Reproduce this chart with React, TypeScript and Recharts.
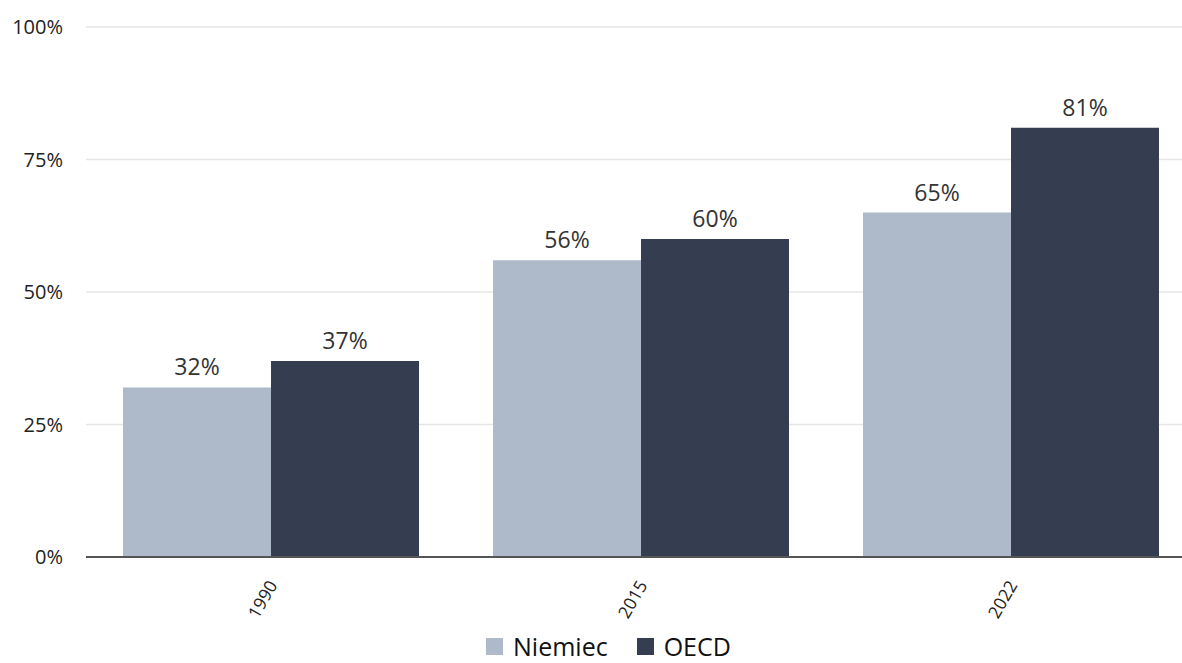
import { BarChart, Bar, XAxis, YAxis, CartesianGrid, Legend, LabelList } from "recharts"

const years = ["1990", "2015", "2022"]
const niemiec = [32, 56, 65]
const oecd = [37, 60, 81]
const yTicks = [0, 25, 50, 75, 100]

const data = years.map((year, i) => ({ year, niemiec: niemiec[i], oecd: oecd[i] }))

const FONT = "'Open Sans', sans-serif"

function YTick({ y, payload }: any) {
    return (
        <text x={63} y={y} dy="0.355em" textAnchor="end" fontSize={20} fill="#222" fontFamily={FONT}>
            {payload.value}%
        </text>
    )
}

function XTick({ x, y, payload }: any) {
    return (
        <g transform={`translate(${x + 7},${y + 20})`}>
            <text textAnchor="end" transform="rotate(-60)" fontSize={17.5} fill="#222" fontFamily={FONT}>
                {payload.value}
            </text>
        </g>
    )
}

function LegendContent({ payload }: any) {
    return (
        <div style={{ display: "flex", alignItems: "center", paddingLeft: 486, height: 26, fontFamily: FONT, fontSize: 25, lineHeight: "26px", color: "#111" }}>
            {(payload || []).map((p: any, i: number) => (
                <div key={p.value} style={{ display: "flex", alignItems: "center", marginRight: i === 0 ? 29 : 0 }}>
                    <span style={{ display: "inline-block", width: 17, height: 17, background: p.color, marginRight: 10 }} />
                    <span>{p.value}</span>
                </div>
            ))}
        </div>
    )
}

export default function App() {
    return (
        <div style={{ position: "fixed", left: 0, top: 0, width: 1182, height: 663, overflow: "hidden", background: "#fff" }}>
            <BarChart
                width={1210}
                height={663}
                data={data}
                margin={{ top: 27, right: 14, bottom: 0, left: 0 }}
                barCategoryGap="10%"
                barGap={0}
            >
                <CartesianGrid vertical={false} stroke="#e6e6e6" strokeWidth={1.5} />
                <XAxis
                    dataKey="year"
                    tick={<XTick />}
                    tickLine={false}
                    axisLine={{ stroke: "#555", strokeWidth: 2 }}
                    height={80}
                    interval={0}
                />
                <YAxis
                    domain={[0, 100]}
                    ticks={yTicks}
                    tick={<YTick />}
                    tickLine={false}
                    axisLine={false}
                    width={86}
                />
                <Legend
                    content={<LegendContent />}
                    verticalAlign="bottom"
                    wrapperStyle={{ left: 0, width: 1210, bottom: 4 }}
                />
                <Bar dataKey="niemiec" name="Niemiec" fill="#aeb9ca" isAnimationActive={false}>
                    <LabelList dataKey="niemiec" position="top" offset={12} formatter={(v: any) => `${v}%`} fontSize={23} fill="#333" fontFamily={FONT} />
                </Bar>
                <Bar dataKey="oecd" name="OECD" fill="#343e50" isAnimationActive={false}>
                    <LabelList dataKey="oecd" position="top" offset={12} formatter={(v: any) => `${v}%`} fontSize={23} fill="#333" fontFamily={FONT} />
                </Bar>
            </BarChart>
        </div>
    )
}
